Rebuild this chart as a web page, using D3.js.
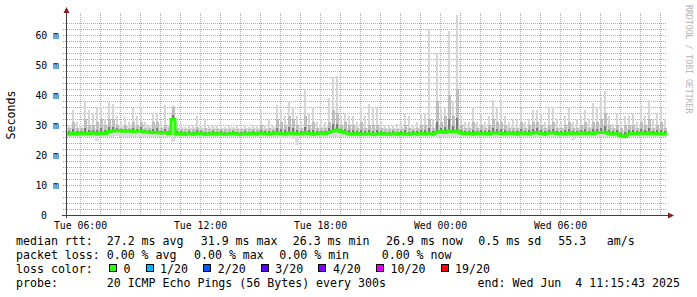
<!DOCTYPE html>
<html>
<head>
<meta charset="utf-8">
<script src="https://cdnjs.cloudflare.com/ajax/libs/d3/7.8.5/d3.min.js"></script>
<style>
  body { margin: 0; background: #fff; }
  svg text { font-family: "DejaVu Sans Mono", monospace; white-space: pre; }
</style>
</head>
<body>
<script>
// time bins: 12 minutes each, starting Tue 05:20
var binStart = new Date(2025, 5, 3, 5, 20);
var binMinutes = 12;

// median rtt per bin (ms)
var medianMs = [
  27.0,27.2,27.0,27.3,27.1,27.2,27.4,27.0,27.3,27.2,
  27.8,28.0,28.2,28.0,27.9,28.1,27.8,27.9,28.0,27.7,
  27.6,27.4,27.6,27.3,27.5,27.2,31.8,27.0,27.2,26.9,
  27.1,27.0,27.3,27.1,26.9,27.0,27.2,27.0,27.1,26.9,
  27.0,27.2,27.0,26.9,27.1,27.0,27.2,27.0,27.3,27.1,
  27.0,27.2,27.4,27.1,27.0,27.3,27.2,27.0,27.1,27.4,
  27.2,27.0,27.1,27.3,27.2,27.5,28.0,28.3,27.8,27.4,
  27.1,27.0,27.2,26.9,27.0,27.1,26.9,27.0,27.2,27.0,
  26.9,27.1,27.0,27.2,27.0,26.9,27.1,27.0,27.2,27.0,
  27.1,27.0,27.6,27.8,27.5,28.0,27.7,27.9,27.3,27.1,
  27.2,27.0,27.3,27.1,27.2,27.0,27.3,27.4,27.2,27.1,
  27.3,27.2,27.0,27.4,27.2,27.1,27.3,27.5,27.2,27.0,
  27.3,27.4,27.1,27.2,27.0,27.3,27.2,27.1,27.4,27.2,
  27.3,27.2,27.4,27.5,27.6,27.2,27.0,27.1,26.4,26.2,
  27.0,27.2,27.1,27.3,27.2,27.4,27.1,27.2,27.0,27.1
];

// highest ping per bin (ms)
var maxMs = [
  30,35,31,30,37.8,35,34,36,36,32,
  37.7,37,33,31,32.7,31,35.7,33,36,31,
  30,34,34,31,36.7,30,36.7,31,30.5,29.5,
  30,30,33,30,32,30,30,30,29.5,29.5,
  30,29.5,30,29.5,30,29.5,30,30,35,30,
  32,30,36.7,35,33,37.7,36,33,31,42,
  34,35.7,31,32,31,39,46,46.5,33,34,
  33,33,31,36,33,37,36,36,31,30,
  30,30,30.5,31,34,33,30,31,34,34,
  62,32,54,35,36,61.4,38,66.7,33,31,
  31,35.7,31,34,31,33,38.3,36,38.3,33,
  31,32,32,35.7,31,32,35,35,34,31,
  36,36,32,31,33,35.7,31,32,33,35,
  32,37.3,36,39,41.3,33,30.5,34,31,33,
  33,34,31,36.7,33,38.3,32,34,35.7,32
];

// upper edge of the denser smoke per bin (ms)
var midMs = [
  29,31,29,29,32,30,30,31,32,30,
  32,32,30,29,30,29,31,30,31,29,
  29,31,31,29,30,29,36,29,28.6,28.6,
  28.6,28.6,29.5,28.6,29,28.6,28.6,28.6,28.6,28.6,
  28.6,28.6,28.6,28.6,28.6,28.6,28.6,28.6,30,28.6,
  29,28.6,32,31,30,33,32,30,29,33,
  30,31,29,29,29,31,35,34,30,31,
  30,30,29,31,29,30,30,30,29,28.6,
  28.6,28.6,28.6,28.6,30,29,28.6,29,30,30,
  32,29,38,31,33,40,33,42,30,29,
  29,31,29,30,29,30,32,31,31,30,
  29,29,29,31,29,30,31,31,30,29,
  30,31,29,29,30,31,29,29,30,31,
  29,31,31,32,34,30,29,30,29,30,
  30,30,29,31,30,32,29,30,31,29
];

// lowest ping per bin (ms)
var minMs = [
  26,26,26,26,25.8,26,26,24.7,26,26,
  26,26,26.2,26,26,26,26,26,26,26,
  26,26,26,26,26,26,24.3,26,26,26,
  26,26,26,26,26,26,26,26,26,26,
  26,26,26,26,26,26,26,26,26,26,
  26,26,26,25.8,26,26,25.5,23.5,26,26,
  26,26,26,26,26,26,26,26,26,26,
  26,26,26,26,26,26,26,26,26,26,
  26,26,26,26,26,26,26,26,26,26,
  26,26,25.8,26,26,26,26,26,26,26,
  26,26,26,26,26,26,26,26,26,26,
  26,26,26,26,26,26,26,26,26,26,
  26,26,26,26,26,26,25,26,26,26,
  26,26,26,26,26,26,26,26,25.5,25.5,
  26,26,26,26,26,26,26,26,26,26
];

var yTicks = [0, 10, 20, 30, 40, 50, 60];
var yTickLabels = ["0", "10 m", "20 m", "30 m", "40 m", "50 m", "60 m"];
var xTickLabels = ["Tue 06:00", "Tue 12:00", "Tue 18:00", "Wed 00:00", "Wed 06:00"];

var rttStats = [27.2, 31.9, 26.3, 26.9];
var rttStatNames = ["avg", "max", "min", "now"];
var rttSd = 0.5;
var rttAms = 55.3;
var lossStats = [0, 0, 0, 0];
var lossStatNames = ["avg", "max", "min", "now"];
var lossLabels = ["0", "1/20", "2/20", "3/20", "4/20", "10/20", "19/20"];
var lossColors = ["#26ff00", "#00b8ff", "#0059ff", "#5e00ff", "#7e00ff", "#dd00ff", "#ff0000"];

var W = 697, H = 297;
var plotL = 67, plotR = 667, plotT = 15, plotB = 215;

var bins = medianMs.map(function(m, i) {
  return {
    t0: d3.timeMinute.offset(binStart, i * binMinutes),
    t1: d3.timeMinute.offset(binStart, (i + 1) * binMinutes),
    med: m, max: maxMs[i], mid: midMs[i], min: minMs[i]
  };
});
var tEnd = bins[bins.length - 1].t1;

var x = d3.scaleTime().domain([binStart, tEnd]).range([plotL, plotR]);
var y = d3.scaleLinear().domain([0, 200 / 3]).range([plotB, plotT]);

var svg = d3.select("body").append("svg")
    .attr("width", W)
    .attr("height", H);

svg.append("rect").attr("width", W).attr("height", H).attr("fill", "#fff");

// grid
var gridMinor = "rgba(143,143,143,0.75)", gridMajor = "rgba(222,79,79,0.6)";
var g = svg.append("g").attr("shape-rendering", "crispEdges");

d3.range(2, 66, 2).forEach(function(v) {
  var yy = Math.round(y(v)) + 0.5;
  g.append("line")
      .attr("x1", 63).attr("x2", plotR)
      .attr("y1", yy).attr("y2", yy)
      .attr("stroke", v % 10 === 0 ? gridMajor : gridMinor)
      .attr("stroke-dasharray", "1,1");
});

d3.timeHour.every(1).range(binStart, tEnd).forEach(function(t) {
  var xx = Math.round(x(t)) + 0.5;
  g.append("line")
      .attr("x1", xx).attr("x2", xx)
      .attr("y1", 13).attr("y2", plotB)
      .attr("stroke", t.getHours() % 3 === 0 ? gridMajor : gridMinor)
      .attr("stroke-dasharray", "1,1");
});

// smoke: outer pings light, inner pings darker
var smoke = svg.append("g").attr("shape-rendering", "crispEdges");
function band(cls, fill, hi, lo, inset, w) {
  smoke.selectAll("rect." + cls)
    .data(bins)
    .enter().append("rect")
      .attr("class", cls)
      .attr("x", function(d) { return x(d.t0) + inset; })
      .attr("width", function(d) { return Math.min(w, x(d.t1) - x(d.t0)); })
      .attr("y", function(d) { return y(hi(d)); })
      .attr("height", function(d) { return Math.max(0, y(lo(d)) - y(hi(d))); })
      .attr("fill", fill);
}
band("base", "#dcdcdc", function(d) { return Math.min(d.max, d.med + 2); },
                        function(d) { return d.min; }, 0, 4);
band("spike", "#d6d6d6", function(d) { return d.max; },
                         function(d) { return d.med + 2; }, 1, 2);
band("mid", "#bebebe", function(d) { return d.mid; },
                       function(d) { return d.med - 0.5; }, 0.5, 3);
band("dark", "#7c7c7c", function(d) { return d.med + 0.3 + (d.mid - d.med) * 0.3; },
                        function(d) { return d.med - 0.3; }, 1, 2);

// median line
var line = d3.line()
    .x(function(d) { return x(d.t); })
    .y(function(d) { return y(d.v); })
    .curve(d3.curveStepAfter);
var pts = bins.map(function(d) { return {t: d.t0, v: d.med}; });
pts.push({t: tEnd, v: medianMs[medianMs.length - 1]});
svg.append("path")
    .attr("d", line(pts))
    .attr("fill", "none")
    .attr("stroke", lossColors[0])
    .attr("stroke-width", 3);

// axes
var axisCol = "#404040", arrowCol = "#801f1f";
svg.append("line").attr("x1", 62).attr("x2", 668).attr("y1", 215.5).attr("y2", 215.5)
    .attr("stroke", axisCol).attr("shape-rendering", "crispEdges");
svg.append("line").attr("x1", 66.5).attr("x2", 66.5).attr("y1", 218).attr("y2", 13)
    .attr("stroke", axisCol).attr("shape-rendering", "crispEdges");
svg.append("path").attr("d", "M63.5,13L69.5,13L66.5,7Z").attr("fill", arrowCol);
svg.append("path").attr("d", "M668,212.5L668,218.5L674,215.5Z").attr("fill", arrowCol);

// y tick labels
svg.selectAll("text.ytick")
  .data(yTicks)
  .enter().append("text")
    .attr("class", "ytick")
    .attr("x", function(d, i) { return yTickLabels[i].indexOf("m") < 0 ? 47 : 59; })
    .attr("y", function(d) { return y(d) + 3.5; })
    .attr("text-anchor", "end")
    .attr("font-size", "9.8px")
    .attr("fill", "#000")
    .text(function(d, i) { return yTickLabels[i]; });

// x tick labels
var xTicks = d3.timeHour.every(6).range(binStart, tEnd);
svg.selectAll("text.xtick")
  .data(xTicks)
  .enter().append("text")
    .attr("class", "xtick")
    .attr("x", function(d) { return Math.round(x(d)) + 0.5; })
    .attr("y", 228.5)
    .attr("text-anchor", "middle")
    .attr("font-size", "9.8px")
    .text(function(d, i) { return xTickLabels[i]; });

// vertical axis title and watermark
svg.append("text")
    .attr("transform", "translate(14.5,115) rotate(-90)")
    .attr("text-anchor", "middle")
    .attr("font-size", "11.6px")
    .text("Seconds");
svg.append("text")
    .attr("transform", "translate(685.5,5) rotate(90)")
    .attr("font-size", "8.2px")
    .attr("fill", "#b4b4b4")
    .text("RRDTOOL / TOBI OETIKER");

// legend
var fs = "11.6px";
function txt(s, xx, yy, anchor) {
  return svg.append("text").attr("x", xx).attr("y", yy)
      .attr("font-size", fs).attr("text-anchor", anchor || "start").text(s);
}
txt("median rtt:", 16, 245);
var rttX = [106.7, 200.7, 292.7, 386];
rttStats.forEach(function(v, i) { txt(v.toFixed(1) + " ms " + rttStatNames[i], rttX[i], 245); });
txt(rttSd.toFixed(1) + " ms sd", 478.3, 245);
txt(rttAms.toFixed(1), 558.3, 245);
txt("am/s", 606.7, 245);

txt("packet loss:", 16, 259);
var lossX = [106.7, 194, 279.3, 381.7];
lossStats.forEach(function(v, i) { txt(v.toFixed(2) + " % " + lossStatNames[i], lossX[i], 259); });

txt("loss color:", 16, 273);
var cx = 109.5;
lossLabels.forEach(function(l, i) {
  svg.append("rect")
      .attr("x", cx).attr("y", 264.5).attr("width", 7).attr("height", 7)
      .attr("fill", lossColors[i]).attr("stroke", "#000")
      .attr("shape-rendering", "crispEdges");
  txt(l, cx + 14, 273);
  cx += (l.length + 4) * 7 + 1.6;
});

txt("probe:", 16, 287);
txt("20 ICMP Echo Pings (56 Bytes) every 300s", 106.7, 287);
txt("end: Wed Jun  4 11:15:43 2025", 680, 287, "end");
</script>
</body>
</html>
